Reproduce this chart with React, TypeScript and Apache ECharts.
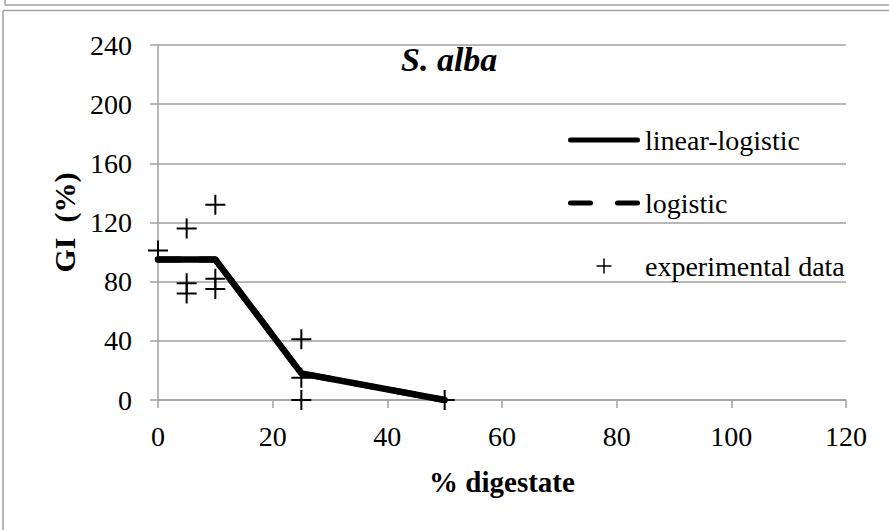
import React, { useEffect, useRef } from "react";
import * as echarts from "echarts";

const fitX = [0, 10, 25, 50];
const linearLogistic = [95, 95, 18, 0];
const logistic = [95, 95, 18, 0];
const expX = [0, 5, 5, 5, 10, 10, 10, 25, 25, 25, 50];
const expY = [101, 116, 79, 72, 132, 82, 75, 41, 15, 0, 0];
const seriesNames = ["linear-logistic", "logistic", "experimental data"];
const xTicks = [0, 20, 40, 60, 80, 100, 120];
const yTicks = [0, 40, 80, 120, 160, 200, 240];

const FONT = "'Liberation Serif', 'Times New Roman', serif";
const GRAY = "#a0a0a0";
const PLUS = "path://M9,0H11V9H20V11H11V20H9V11H0V9H9Z";
const SOLID_ICON = "path://M2.5,0H69.5A2.5,2.5,0,0,1,69.5,5H2.5A2.5,2.5,0,0,1,2.5,0Z";
const DASH_ICON =
  "path://M2.5,0H22.5A2.5,2.5,0,0,1,22.5,5H2.5A2.5,2.5,0,0,1,2.5,0Z M49.5,0H69.5A2.5,2.5,0,0,1,69.5,5H49.5A2.5,2.5,0,0,1,49.5,0Z";
const legendIcons = [SOLID_ICON, DASH_ICON, PLUS];

export default function App() {
  const ref = useRef<HTMLDivElement>(null);
  useEffect(() => {
    if (!ref.current) return;
    const chart = echarts.init(ref.current, undefined, { renderer: "svg" });
    chart.setOption({
      animation: false,
      backgroundColor: "#ffffff",
      title: {
        text: "S. alba",
        left: 401,
        top: 42,
        padding: 0,
        textStyle: { fontFamily: FONT, fontSize: 34, fontWeight: "bold", fontStyle: "italic", color: "#000" },
      },
      legend: {
        orient: "vertical",
        left: 568,
        top: 126,
        itemWidth: 72,
        itemHeight: 15,
        itemGap: 35,
        padding: 0,
        selectedMode: false,
        data: seriesNames.map((n, i) => ({ name: n, icon: legendIcons[i], itemStyle: { color: "#000" } })),
        textStyle: { fontFamily: FONT, fontSize: 28, color: "#000" },
      },
      grid: { left: 158, right: 43, top: 45, bottom: 130, containLabel: false },
      xAxis: {
        type: "value",
        min: xTicks[0],
        max: xTicks[xTicks.length - 1],
        interval: 20,
        name: "% digestate",
        nameLocation: "middle",
        nameGap: 67,
        nameTextStyle: { fontFamily: FONT, fontSize: 29, fontWeight: "bold", color: "#000" },
        axisLine: { show: true, lineStyle: { color: GRAY, width: 1.5 } },
        axisTick: { show: true, length: 8, lineStyle: { color: GRAY, width: 1.5 } },
        axisLabel: { fontFamily: FONT, fontSize: 28, color: "#000", margin: 22 },
        splitLine: { show: false },
      },
      yAxis: {
        type: "value",
        min: yTicks[0],
        max: yTicks[yTicks.length - 1],
        interval: 40,
        name: "GI  (%)",
        nameLocation: "middle",
        nameGap: 76,
        nameTextStyle: { fontFamily: FONT, fontSize: 30, fontWeight: "bold", color: "#000" },
        axisLine: { show: true, lineStyle: { color: GRAY, width: 1.5 } },
        axisTick: { show: true, length: 8, lineStyle: { color: GRAY, width: 1.5 } },
        axisLabel: { fontFamily: FONT, fontSize: 28, color: "#000", margin: 26 },
        splitLine: { show: true, lineStyle: { color: GRAY, width: 1.5 } },
      },
      series: [
        {
          name: seriesNames[1],
          type: "line",
          symbol: "none",
          data: fitX.map((x, i) => [x, logistic[i]]),
          lineStyle: { color: "#000", width: 6, type: [22, 20], cap: "round" },
          itemStyle: { color: "#000" },
          z: 2,
        },
        {
          name: seriesNames[0],
          type: "line",
          symbol: "none",
          data: fitX.map((x, i) => [x, linearLogistic[i]]),
          lineStyle: { color: "#000", width: 6.5, cap: "round", join: "round" },
          itemStyle: { color: "#000" },
          z: 3,
        },
        {
          name: seriesNames[2],
          type: "scatter",
          symbol: PLUS,
          symbolSize: 20,
          data: expX.map((x, i) => [x, expY[i]]),
          itemStyle: { color: "#000", opacity: 1 },
          z: 4,
        },
      ],
      graphic: [
        { type: "line", shape: { x1: 5, y1: 0, x2: 5, y2: 5 }, style: { stroke: GRAY, lineWidth: 1.5 } },
        { type: "line", shape: { x1: 5, y1: 5, x2: 889, y2: 5 }, style: { stroke: GRAY, lineWidth: 1.5 } },
        { type: "line", shape: { x1: 3, y1: 10.5, x2: 889, y2: 10.5 }, style: { stroke: GRAY, lineWidth: 1.5 } },
        { type: "line", shape: { x1: 3, y1: 10.5, x2: 3, y2: 530 }, style: { stroke: GRAY, lineWidth: 1.5 } },
      ],
    });
    return () => chart.dispose();
  }, []);
  return (
    <div
      ref={ref}
      style={{ position: "fixed", left: 0, top: 0, width: 889, height: 530 }}
    />
  );
}
